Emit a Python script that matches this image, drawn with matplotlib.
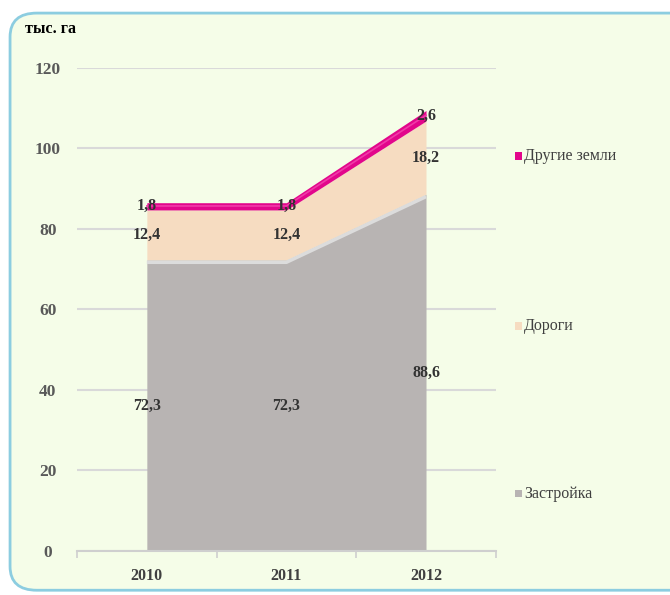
import matplotlib
matplotlib.use("Agg")
import matplotlib.pyplot as plt
import numpy as np
from matplotlib.patches import FancyBboxPatch, Rectangle

years = ["2010", "2011", "2012"]
zastroyka = [72.3, 72.3, 88.6]
dorogi = [12.4, 12.4, 18.2]
drugie = [1.8, 1.8, 2.6]
series_names = ["Застройка", "Дороги", "Другие земли"]
series_colors = ["#b8b4b3", "#f6dcc1", "#e2068b"]
y_ticks = [0, 20, 40, 60, 80, 100, 120]
unit_label = "тыс. га"

plt.rcParams['font.family'] = ['Liberation Serif', 'DejaVu Serif']

fig = plt.figure(figsize=(6.7, 5.95), dpi=100)
fig.patch.set_facecolor("white")
frame = FancyBboxPatch((0.015, 0.008), 1.05, 0.97, boxstyle="round,pad=0,rounding_size=0.04",
                       transform=fig.transFigure, facecolor="#f5fde8", edgecolor="#8ccde0",
                       linewidth=2, zorder=-5)
fig.patches.append(frame)

ax = fig.add_axes([0.115, 0.074, 0.625, 0.812])
ax.set_zorder(2)
ax.set_facecolor("none")
x = np.arange(len(years))
data = [np.array(zastroyka), np.array(dorogi), np.array(drugie)]
bottom = np.zeros(len(years))
for vals, c in zip(data, series_colors):
    ax.fill_between(x, bottom, bottom + vals, color=c, linewidth=0, zorder=2)
    bottom = bottom + vals
# bevel highlight on top of gray area
top_gray = np.array(zastroyka)
ax.plot(x, top_gray - 0.6, color="#dcdcdc", linewidth=2.5, zorder=3, solid_capstyle="butt")
# highlight on pink band
ax.plot(x, top_gray + np.array(dorogi) + np.array(drugie) * 0.55, color="#f03aa8", linewidth=1.2, zorder=3)

# labels
bottom = np.zeros(len(years))
for vals in data:
    for i, v in enumerate(vals):
        ax.text(x[i], bottom[i] + v / 2, f"{v:.1f}".replace(".", ","), ha="center", va="center",
                fontsize=11.5, fontweight="bold", color="#333333", zorder=5)
    bottom = bottom + vals

ax.set_xlim(-0.5, 2.5)
ax.set_ylim(0, 120)
ax.set_yticks(y_ticks)
ax.set_yticklabels([str(t) for t in y_ticks], fontsize=12.5, fontweight="bold", color="#595959",
                   ha="center")
ax.set_xticks(x)
ax.set_xticklabels(years, fontsize=11.5, fontweight="bold", color="#404040")
ax.set_xticks([-0.5, 0.5, 1.5, 2.5], minor=True)
ax.tick_params(axis="x", which="major", length=0, pad=12)
ax.tick_params(axis="x", which="minor", length=5, color="#cfcfcf", width=1.2)
ax.tick_params(axis="y", length=0, pad=21)
ax.grid(axis="y", color="#d9d9d9", linewidth=1.5, zorder=1)
ax.set_axisbelow(True)
for s in ["left", "right", "top"]:
    ax.spines[s].set_visible(False)
ax.spines["bottom"].set_color("#cfcfcf")
ax.spines["bottom"].set_linewidth(1.5)

fig.text(0.037, 0.952, unit_label, fontsize=11.5, fontweight="bold", color="black", ha="left", va="center")

# legend
leg_y = [0.170, 0.452, 0.737]
for name, c, yy in zip(series_names, series_colors, leg_y):
    fig.patches.append(Rectangle((0.768, yy - 0.006), 0.011, 0.013, transform=fig.transFigure,
                                 facecolor=c, edgecolor="none", zorder=3))
    fig.text(0.782, yy, name, fontsize=11.5, color="#404040", ha="left", va="center")

fig.savefig("out.png", dpi=100)
